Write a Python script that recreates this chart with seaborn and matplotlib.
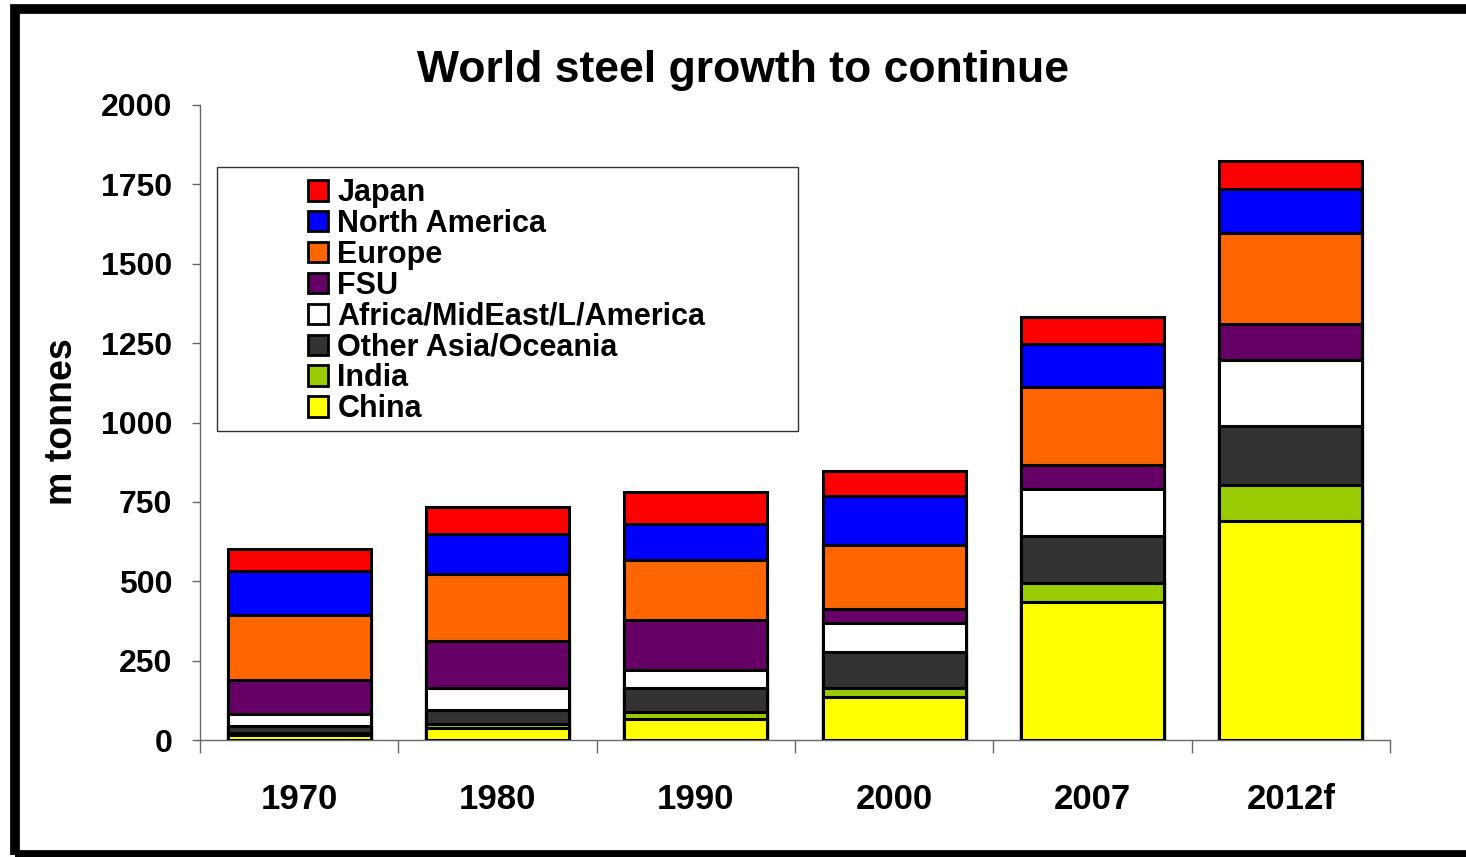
import numpy as np
import pandas as pd
import matplotlib
matplotlib.use("Agg")
import matplotlib.pyplot as plt
from matplotlib.patches import Rectangle, Patch
import seaborn as sns

# Crude steel production by region (million tonnes)
years = ["1970", "1980", "1990", "2000", "2007", "2012f"]
china = [16, 38, 67, 136, 434, 690]
india = [6, 12, 22, 29, 61, 114]
other_asia = [22, 44, 74, 113, 148, 184]
africa_me_la = [37, 69, 57, 92, 149, 209]
fsu = [108, 149, 157, 44, 75, 113]
europe = [205, 212, 189, 201, 246, 286]
north_america = [138, 126, 115, 152, 135, 141]
japan = [71, 83, 100, 79, 83, 87]

# stacking order, bottom to top
regions = ["China", "India", "Other Asia/Oceania", "Africa/MidEast/L/America",
           "FSU", "Europe", "North America", "Japan"]
series = [china, india, other_asia, africa_me_la, fsu, europe, north_america, japan]
colors = ["#FFFF00", "#99CC00", "#333333", "#FFFFFF",
          "#660066", "#FF6600", "#0000FF", "#FF0000"]

sns.set_theme(style="white")
plt.rcParams["font.family"] = ["Liberation Sans", "DejaVu Sans"]
plt.rcParams["font.weight"] = "bold"
plt.rcParams["text.color"] = "black"
plt.rcParams["xtick.color"] = "black"
plt.rcParams["ytick.color"] = "black"

W, H = 1466, 857
fig = plt.figure(figsize=(W / 100, H / 100), dpi=100)
fig.patch.set_facecolor("white")
ax = fig.add_axes([200 / W, 1 - 740 / H, 1190 / W, 635 / H])

df = pd.DataFrame({"year": years})
cum = np.zeros(len(years))
for name, vals in zip(regions, series):
    cum = cum + np.array(vals, dtype=float)
    df[name] = cum

# draw cumulative totals from the tallest down so each layer shows its own band
for name, col in zip(regions[::-1], colors[::-1]):
    sns.barplot(data=df, x="year", y=name, color=col, width=0.72,
                edgecolor="black", linewidth=2.2, saturation=1,
                errorbar=None, ax=ax, zorder=3)

ax.set_ylim(0, 2000)
ax.set_xlim(-0.5, 5.5)
ax.set_yticks(np.arange(0, 2001, 250))
ax.set_yticklabels([str(v) for v in range(0, 2001, 250)],
                   fontsize=23, fontweight="bold", color="black")
ax.set_xticks(range(len(years)))
ax.set_xticklabels(years, fontsize=25, fontweight="bold", color="black")
ax.set_xticks(np.arange(-0.5, 6, 1), minor=True)
ax.tick_params(axis="x", which="major", length=0, pad=31)
ax.tick_params(axis="x", which="minor", length=9, width=1, color="#666666",
               direction="out", bottom=True)
ax.tick_params(axis="y", which="major", length=6, width=1, color="#666666",
               direction="out", pad=14, left=True)
ax.set_xlabel("")
ax.set_ylabel("")
for side in ["top", "right"]:
    ax.spines[side].set_visible(False)
for side in ["left", "bottom"]:
    ax.spines[side].set_color("#666666")
    ax.spines[side].set_linewidth(1)
ax.grid(False)

# legend box and entries
ax.add_patch(Rectangle((17 / 1190, (740 - 431) / 635), 581 / 1190, 264 / 635,
                       transform=ax.transAxes, fill=True, facecolor="white",
                       edgecolor="#333333", linewidth=1, zorder=4))
handles = [Patch(facecolor=c, edgecolor="black", linewidth=2, label=n)
           for n, c in zip(regions[::-1], colors[::-1])]
leg = ax.legend(handles=handles, loc="upper left",
                bbox_to_anchor=(108 / 1190, (740 - 178) / 635),
                frameon=False, prop={"weight": "bold", "size": 22},
                handlelength=0.66, handleheight=0.66, handletextpad=0.3,
                labelspacing=0.03, borderpad=0, borderaxespad=0)
for t in leg.get_texts():
    t.set_color("black")
leg.set_zorder(5)

fig.text(62 / W, 1 - 422 / H, "m tonnes", rotation=90, ha="center",
         va="center", fontsize=27, fontweight="bold", color="black")
fig.text(743 / W, 1 - 82 / H, "World steel growth to continue", ha="center",
         va="baseline", fontsize=32, fontweight="bold", color="black")

# outer frame
fig.add_artist(Rectangle((14.5 / W, 1 - 855 / H), (1480 - 14.5) / W,
                         (855 - 9) / H, transform=fig.transFigure,
                         fill=False, edgecolor="black", linewidth=7))

fig.savefig("out.png", dpi=100, facecolor="white")
